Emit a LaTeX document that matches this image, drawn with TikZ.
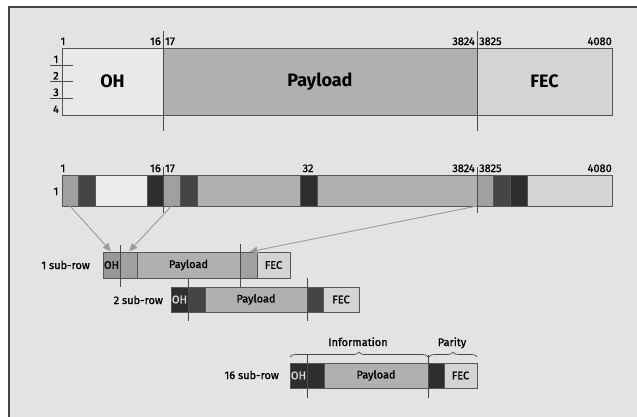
\documentclass[tikz,border=0pt]{standalone}
\usepackage{fontspec}
\setmainfont{Fira Sans}
\newfontfamily\medfont{Fira Sans}[FakeBold=1.2]
\usetikzlibrary{arrows.meta,decorations.pathreplacing}
\definecolor{bgc}{HTML}{E3E3E3}
\definecolor{framec}{HTML}{444444}
\definecolor{edgec}{HTML}{555555}
\definecolor{linec}{HTML}{4A4A4A}
\definecolor{ohc}{HTML}{E9E9E9}
\definecolor{payc}{HTML}{B0B0B0}
\definecolor{fecc}{HTML}{D4D4D4}
\definecolor{midc}{HTML}{A0A0A0}
\definecolor{ohmidc}{HTML}{979797}
\definecolor{darkc}{HTML}{454545}
\definecolor{blackc}{HTML}{2E2E2E}
\definecolor{whitec}{HTML}{ECECEC}
\definecolor{arrowc}{HTML}{9A9A9A}
\definecolor{ohtextc}{HTML}{DDDDDD}

\tikzset{
  cell/.style={draw=edgec,line width=0.7pt,inner sep=0pt,outer sep=0pt,anchor=north west},
  bigrow/.style={cell,minimum height=67pt,font=\fontsize{18}{20}\selectfont\bfseries},
  thinrow/.style={cell,minimum height=31pt},
  subrow/.style={cell,minimum height=25pt,font=\fontsize{11}{13}\selectfont\medfont},
  num/.style={font=\fontsize{11}{13}\selectfont\medfont,inner sep=0pt},
  divline/.style={draw=linec,line width=0.8pt},
  feed/.style={draw=arrowc,line width=0.9pt,-{Triangle[length=8pt,width=7pt]},shorten >=1pt},
  curly/.style={draw=linec,line width=0.7pt,decorate,decoration={brace,amplitude=5pt,raise=6pt}},
}

\begin{document}
\begin{tikzpicture}[x=1pt,y=-1pt]
  \useasboundingbox (0,0) rectangle (637,417);
  \clip (0,0) rectangle (637,417);
  \draw[framec,line width=1.6pt,fill=bgc] (9,7) rectangle (660,440);

  % whole frame, 4 rows
  \node[bigrow,fill=ohc,minimum width=101pt] (toh) at (62,48) {OH};
  \node[bigrow,fill=payc,minimum width=314pt] (tpay) at (163,48) {Payload};
  \node[bigrow,fill=fecc,minimum width=135pt] (tfec) at (477,48) {FEC};
  \draw[divline] (toh.north west) ++(-12,17) -- ++(23,0);
  \draw[divline] (toh.north west) ++(-12,33) -- ++(23,0);
  \draw[divline] (toh.north west) ++(-12,50) -- ++(23,0);
  \draw[divline] (tpay.north west) ++(0,-17) -- ++(0,100);
  \draw[divline] (tfec.north west) ++(0,-17) -- ++(0,100);
  \node[num,anchor=base] (tc1) at (63,45) {1};
  \node[num,anchor=base east] (tc16) at (161,45) {16};
  \node[num,anchor=base west] (tc17) at (165,45) {17};
  \node[num,anchor=base east] (tc3824) at (475,45) {3824};
  \node[num,anchor=base west] (tc3825) at (479,45) {3825};
  \node[num,anchor=base east] (tc4080) at (612,45) {4080};
  \node[num,anchor=base] (tr1) at (56,63) {1};
  \node[num,anchor=base] (tr2) at (56,79.5) {2};
  \node[num,anchor=base] (tr3) at (56,96) {3};
  \node[num,anchor=base] (tr4) at (56,113) {4};

  % one row, columns interleaved
  \node[thinrow,fill=midc,minimum width=16pt] (m1) at (62,175) {};
  \node[thinrow,fill=darkc,minimum width=17pt] (m2) at (78,175) {};
  \node[thinrow,fill=whitec,minimum width=52pt] (m3) at (95,175) {};
  \node[thinrow,fill=blackc,minimum width=16pt] (m4) at (147,175) {};
  \node[thinrow,fill=midc,minimum width=17pt] (m5) at (163,175) {};
  \node[thinrow,fill=darkc,minimum width=17pt] (m6) at (180,175) {};
  \node[thinrow,fill=payc,minimum width=103pt] (m7) at (197,175) {};
  \node[thinrow,fill=blackc,minimum width=17pt] (m8) at (300,175) {};
  \node[thinrow,fill=payc,minimum width=160pt] (m9) at (317,175) {};
  \node[thinrow,fill=midc,minimum width=16pt] (m10) at (477,175) {};
  \node[thinrow,fill=darkc,minimum width=17pt] (m11) at (493,175) {};
  \node[thinrow,fill=blackc,minimum width=17pt] (m12) at (510,175) {};
  \node[thinrow,fill=fecc,minimum width=85pt] (m13) at (527,175) {};
  \draw[divline] (m5.north west) ++(0,-8) -- ++(0,46);
  \draw[divline] (m10.north west) ++(0,-8) -- ++(0,46);
  \node[num,anchor=base] (mc1) at (63,172) {1};
  \node[num,anchor=base east] (mc16) at (161,172) {16};
  \node[num,anchor=base west] (mc17) at (165,172) {17};
  \node[num,anchor=base] (mc32) at (308,172) {32};
  \node[num,anchor=base east] (mc3824) at (475,172) {3824};
  \node[num,anchor=base west] (mc3825) at (479,172) {3825};
  \node[num,anchor=base east] (mc4080) at (612,172) {4080};
  \node[num,anchor=base] (mr1) at (56,195) {1};

  % sub-row 1
  \node[subrow,fill=ohmidc,minimum width=17pt,minimum height=26pt] (a1) at (103,252) {OH};
  \node[subrow,fill=midc,minimum width=17pt,minimum height=26pt] (a2) at (120,252) {};
  \node[subrow,fill=payc,minimum width=103pt,minimum height=26pt] (a3) at (137,252) {Payload};
  \node[subrow,fill=midc,minimum width=17pt,minimum height=26pt] (a4) at (240,252) {};
  \node[subrow,fill=fecc,minimum width=33pt,minimum height=26pt] (a5) at (257,252) {FEC};
  \draw[divline] (a2.north west) ++(0,-7) -- ++(0,42);
  \draw[divline] (a4.north west) ++(0,-8) -- ++(0,43);
  \node[num,anchor=base east] (alab) at (90,269) {1 sub-row};

  % sub-row 2
  \node[subrow,fill=blackc,text=ohtextc,minimum width=17pt] (b1) at (171,287) {OH};
  \node[subrow,fill=darkc,minimum width=17pt] (b2) at (188,287) {};
  \node[subrow,fill=payc,minimum width=102pt] (b3) at (205,287) {Payload};
  \node[subrow,fill=darkc,minimum width=16pt] (b4) at (307,287) {};
  \node[subrow,fill=fecc,minimum width=36pt] (b5) at (323,287) {FEC};
  \draw[divline] (b2.north west) ++(0,-9) -- ++(0,43);
  \draw[divline] (b4.north west) ++(0,-9) -- ++(0,43);
  \node[num,anchor=base east] (blab) at (163,304) {2 sub-row};

  % sub-row 16
  \node[subrow,fill=blackc,text=ohtextc,minimum width=17pt] (c1) at (290,363) {OH};
  \node[subrow,fill=blackc,minimum width=17pt] (c2) at (307,363) {};
  \node[subrow,fill=payc,minimum width=104pt] (c3) at (324,363) {Payload};
  \node[subrow,fill=blackc,minimum width=16pt] (c4) at (428,363) {};
  \node[subrow,fill=fecc,minimum width=33pt] (c5) at (444,363) {FEC};
  \draw[divline] (c2.north west) ++(0,-8) -- ++(0,43);
  \draw[divline] (c4.north west) ++(0,-8) -- ++(0,43);
  \node[num,anchor=base east] (clab) at (279,379) {16 sub-row};
  \draw[curly] (c1.north west) -- (c4.north west);
  \draw[curly] ([xshift=1pt]c4.north west) -- (c5.north east);
  \node[num,anchor=base] (info) at (358,346) {Information};
  \node[num,anchor=base] (parity) at (452,346) {Parity};

  % where the columns go
  \draw[feed] (m1.south) -- (a1.north);
  \draw[feed] (m5.south) -- (a2.north);
  \draw[feed] (m10.south west) -- (a4.north);
\end{tikzpicture}
\end{document}
